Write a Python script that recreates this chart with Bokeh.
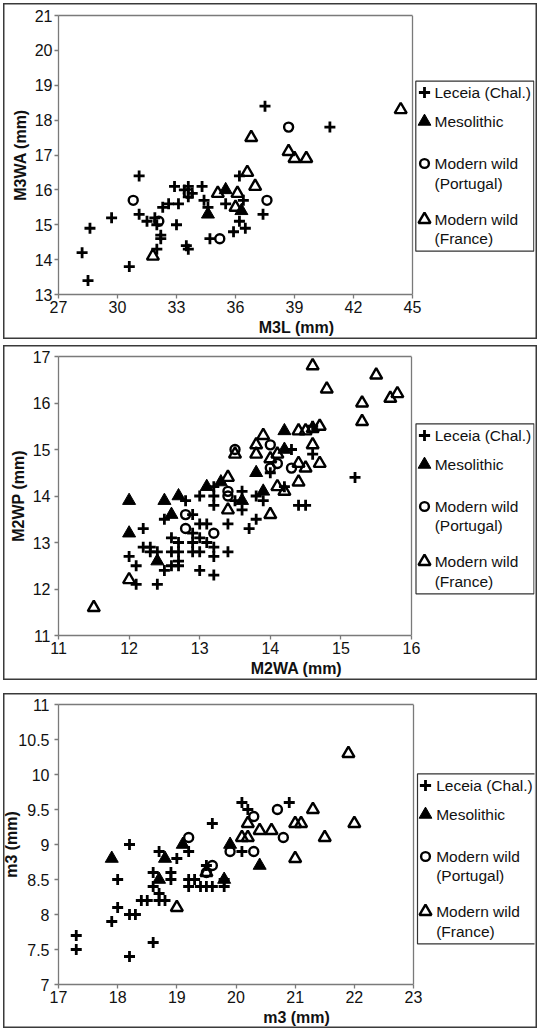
from bokeh.plotting import figure
from bokeh.layouts import column
from bokeh.models import (FixedTicker, CustomJSTickFormatter, Legend, LegendItem,
                          Label, Spacer, Range1d, LinearAxis, Span)
from bokeh.embed import file_html
from bokeh.resources import INLINE

FONT = "Liberation Sans"

SERIES_NAMES = ["Leceia (Chal.)", "Mesolithic", "Modern wild\n(Portugal)", "Modern wild\n(France)"]

# ---- Panel 1: M3L vs M3WA ----
m3l_leceia = [28.2, 28.5, 28.6, 29.7, 30.6, 31.1, 31.1, 31.5, 31.9, 32.0, 32.0, 32.2, 32.2,
              32.3, 32.6, 32.9, 33.1, 33.0, 33.4, 33.6, 33.8, 33.6, 34.3, 34.4, 34.6, 33.5,
              33.6, 34.7, 35.5, 35.9, 36.2, 36.2, 36.4, 36.5, 37.4, 37.5, 40.8]
m3wa_leceia = [14.2, 13.4, 14.9, 15.2, 13.8, 16.4, 15.3, 15.1, 15.2, 15.0, 14.3, 14.7, 14.6,
               15.5, 15.6, 16.1, 15.6, 15.0, 16.0, 16.1, 15.9, 15.8, 16.1, 15.7, 15.5, 14.4,
               14.3, 14.6, 15.6, 14.8, 16.4, 15.1, 15.7, 14.9, 15.3, 18.4, 17.8]
m3l_meso = [34.6, 35.5, 36.3]
m3wa_meso = [15.3, 16.0, 15.4]
m3l_portugal = [30.8, 32.1, 33.6, 35.2, 37.6, 38.7]
m3wa_portugal = [15.7, 15.1, 15.9, 14.6, 15.7, 17.8]
m3l_france = [31.8, 35.1, 36.1, 36.0, 36.6, 37.0, 36.8, 38.7, 39.0, 39.6, 44.4]
m3wa_france = [14.1, 15.9, 15.9, 15.5, 16.5, 16.1, 17.5, 17.1, 16.9, 16.9, 18.3]
m3l_ticks = [27, 30, 33, 36, 39, 42, 45]
m3wa_ticks = [13, 14, 15, 16, 17, 18, 19, 20, 21]

# ---- Panel 2: M2WA vs M2WP ----
m2wa_leceia = [12.0, 12.1, 12.1, 12.2, 12.2, 12.3, 12.3, 12.4, 12.4, 12.5, 12.5, 12.6, 12.6,
               12.6, 12.7, 12.7, 12.7, 12.7, 12.8, 12.9, 12.9, 12.9, 12.9, 13.0, 13.0, 13.0,
               13.0, 13.0, 13.1, 13.1, 13.2, 13.2, 13.2, 13.2, 13.2, 13.2, 13.4, 13.4, 13.5,
               13.6, 13.6, 13.7, 13.8, 13.8, 13.9, 14.0, 14.2, 14.3, 14.4, 14.5, 14.6, 14.6,
               15.2]
m2wp_leceia = [12.7, 12.5, 12.1, 13.3, 12.9, 12.9, 12.8, 12.8, 12.1, 13.5, 12.4, 13.1, 12.8,
               12.5, 13.0, 12.8, 12.6, 12.5, 13.9, 13.6, 13.2, 13.0, 12.8, 14.0, 13.4, 13.1,
               12.8, 12.4, 13.4, 13.0, 14.2, 14.0, 13.8, 12.9, 12.7, 12.3, 13.4, 12.8, 13.9,
               14.1, 13.7, 13.3, 14.0, 13.5, 13.9, 14.5, 14.2, 15.0, 13.8, 13.8, 15.5, 14.9,
               14.4]
m2wa_meso = [12.0, 12.0, 12.4, 12.5, 12.6, 12.7, 13.1, 13.3, 13.6, 13.8, 13.9, 14.2, 14.2]
m2wp_meso = [13.9, 13.2, 12.6, 13.9, 13.6, 14.0, 14.2, 14.3, 13.9, 14.5, 14.1, 15.4, 15.0]
m2wa_portugal = [12.8, 12.8, 13.2, 13.4, 13.4, 13.5, 14.0, 14.0, 14.1, 14.3]
m2wp_portugal = [13.6, 13.3, 13.2, 14.1, 14.0, 15.0, 15.1, 14.6, 14.7, 14.6]
m2wa_france = [11.5, 12.0, 13.4, 13.4, 13.5, 13.8, 13.8, 13.9, 14.0, 14.0, 14.1, 14.1, 14.2,
               14.4, 14.5, 14.6, 14.7, 14.6, 14.4, 14.5, 14.7, 14.4, 14.6, 14.8, 15.3, 15.3,
               15.5, 15.7, 15.8]
m2wp_france = [11.6, 12.2, 14.4, 13.7, 14.9, 15.1, 14.9, 15.3, 14.8, 13.6, 14.9, 14.2, 14.1,
               15.4, 15.4, 15.45, 15.5, 15.1, 14.7, 14.6, 14.7, 14.3, 16.8, 16.3, 16.0, 15.6,
               16.6, 16.1, 16.2]
m2wa_ticks = [11, 12, 13, 14, 15, 16]
m2wp_ticks = [11, 12, 13, 14, 15, 16, 17]

# ---- Panel 3: m3 length vs m3 width ----
m3x_leceia = [17.3, 17.3, 17.9, 18.0, 18.0, 18.2, 18.2, 18.3, 18.2, 18.4, 18.5, 18.6, 18.6,
              18.6, 18.7, 18.7, 18.7, 18.8, 18.9, 18.9, 19.0, 19.2, 19.2, 19.2, 19.3, 19.4,
              19.5, 19.6, 19.6, 19.5, 19.8, 19.8, 20.1, 20.2, 20.1, 20.9]
m3y_leceia = [7.7, 7.5, 7.9, 8.5, 8.1, 9.0, 8.0, 8.0, 7.4, 8.2, 8.2, 8.6, 8.4,
              7.6, 8.9, 8.3, 8.2, 8.2, 8.6, 8.5, 8.8, 8.9, 8.5, 8.4, 8.5, 8.4,
              8.4, 8.4, 9.3, 8.7, 8.5, 8.4, 9.6, 9.5, 8.9, 9.6]
m3x_meso = [17.9, 18.7, 18.8, 19.1, 19.8, 19.9, 20.4]
m3y_meso = [8.8, 8.5, 8.8, 9.0, 8.5, 9.0, 8.7]
m3x_portugal = [19.2, 19.5, 19.6, 19.9, 20.3, 20.3, 20.7, 20.8]
m3y_portugal = [9.1, 8.6, 8.7, 8.9, 9.4, 8.9, 9.5, 9.1]
m3x_france = [19.0, 19.5, 20.1, 20.2, 20.2, 20.4, 20.6, 21.0, 21.1, 21.0, 21.3, 21.5, 21.9, 22.0]
m3y_france = [8.1, 8.6, 9.1, 9.1, 9.3, 9.2, 9.2, 9.3, 9.3, 8.8, 9.5, 9.1, 10.3, 9.3]
m3x_ticks = [17, 18, 19, 20, 21, 22, 23]
m3y_ticks = [7, 7.5, 8, 8.5, 9, 9.5, 10, 10.5, 11]

AXIS_GREY = "#7a7a7a"
INK = "#111111"

STYLES = [
    dict(marker="cross", size=11, line_color="black", line_width=2.8),
    dict(marker="triangle", size=13, fill_color="black", line_color="black", line_width=1),
    dict(marker="circle", size=9, fill_alpha=0, line_color="black", line_width=2.4),
    dict(marker="triangle", size=12, fill_alpha=0, line_color="black", line_width=2.4),
]

# legend box geometry (pixels, relative to the box's top-left corner)
LEG_W, LEG_H = 118, 170
ROW_OFF = [11.5, 40.7, 82.3, 137.8]
LINE_GAP = 19.5
GLYPH_DX = 8.2
TEXT_DX = 18.7

PAGE_W = 540
LEFT = 58          # stacked plots share one frame edge
RIGHT_PAD = 6


def make_panel(series, x_ticks, y_ticks, x_title, y_title, height, plot_w, top, bottom,
               leg_left, leg_top, y_label_standoff, y_title_standoff):
    # the frame runs on past the last x tick so the legend can sit inside it
    frame_w = PAGE_W - LEFT - RIGHT_PAD
    frame_h = height - top - bottom
    x0, x1 = x_ticks[0], x_ticks[-1]
    y0, y1 = y_ticks[0], y_ticks[-1]
    x_per_px = (x1 - x0) / plot_w
    y_per_px = (y1 - y0) / frame_h
    p = figure(width=PAGE_W, height=height,
               x_range=Range1d(x0, x0 + frame_w * x_per_px),
               y_range=Range1d(y0, y1),
               min_border_left=LEFT, min_border_right=RIGHT_PAD,
               min_border_top=top, min_border_bottom=bottom,
               output_backend="svg", toolbar_location=None)
    p.background_fill_color = "white"
    p.border_fill_color = None
    p.outline_line_color = None
    p.xgrid.visible = False
    p.ygrid.visible = False
    p.styles = {"box-shadow": "inset 0 0 0 3px white, inset 0 0 0 4.5px #3a3a3a"}

    fmt = "return tick.toString();"
    p.xaxis.ticker = FixedTicker(ticks=x_ticks)
    p.yaxis.ticker = FixedTicker(ticks=y_ticks)
    p.xaxis.bounds = (x0, x1)
    for ax in (p.xaxis[0], p.yaxis[0]):
        ax.formatter = CustomJSTickFormatter(code=fmt)
        ax.axis_line_color = AXIS_GREY
        ax.axis_line_width = 1.3
        ax.major_tick_line_color = AXIS_GREY
        ax.major_tick_line_width = 1.3
        ax.major_tick_in = 0
        ax.major_tick_out = 4
        ax.minor_tick_line_color = None
        ax.major_label_text_font = FONT
        ax.major_label_text_font_size = "16px"
        ax.major_label_text_color = INK
        ax.axis_label_text_font = FONT
        ax.axis_label_text_font_size = "16px"
        ax.axis_label_text_font_style = "bold"
        ax.axis_label_text_color = INK
    p.xaxis.axis_label = x_title
    p.yaxis.axis_label = y_title
    p.xaxis.major_label_standoff = 2
    p.xaxis.axis_label_standoff = 3
    p.yaxis.major_label_standoff = y_label_standoff
    p.yaxis.axis_label_standoff = y_title_standoff

    # top and right edges of the plotting area
    top_edge = LinearAxis(bounds=(x0, x1), ticker=FixedTicker(ticks=[]),
                          axis_line_color=AXIS_GREY, axis_line_width=1.3,
                          major_tick_line_color=None, minor_tick_line_color=None,
                          major_label_text_color=None)
    p.add_layout(top_edge, "above")
    p.add_layout(Span(location=x1, dimension="height", line_color=AXIS_GREY, line_width=1.3))

    # legend box, sized in pixels and anchored at its centre
    box_top = frame_h - leg_top
    p.rect(x=[x0 + (leg_left + LEG_W / 2) * x_per_px],
           y=[y0 + (box_top - LEG_H / 2) * y_per_px],
           width=LEG_W, height=LEG_H, width_units="screen", height_units="screen",
           fill_color="white", line_color="#333333", line_width=1.2)

    renderers = []
    for (xs, ys), style in zip(series, STYLES):
        renderers.append(p.scatter(x=xs, y=ys, **style))

    for r, name, off, style in zip(renderers, SERIES_NAMES, ROW_OFF, STYLES):
        cy = box_top - off
        cx = leg_left + GLYPH_DX
        box = int(round(style["size"] / 0.4))
        p.add_layout(Legend(items=[LegendItem(label=" ", renderers=[r])],
                            location=(cx - box / 2, cy - box / 2),
                            glyph_width=box, glyph_height=box,
                            label_width=0, label_height=0, label_standoff=0,
                            padding=0, spacing=0,
                            label_text_font_size="1px",
                            border_line_alpha=0, background_fill_alpha=0))
        for i, line in enumerate(name.split("\n")):
            p.add_layout(Label(x=leg_left + TEXT_DX, y=cy - i * LINE_GAP,
                               x_units="screen", y_units="screen", text=line,
                               text_font=FONT, text_font_size="15.5px",
                               text_color=INK, text_baseline="middle",
                               text_align="left"))
    return p


p1 = make_panel([(m3l_leceia, m3wa_leceia), (m3l_meso, m3wa_meso),
                 (m3l_portugal, m3wa_portugal), (m3l_france, m3wa_france)],
                m3l_ticks, m3wa_ticks, "M3L (mm)", "M3WA (mm)",
                height=342, plot_w=354, top=15, bottom=48,
                leg_left=357.3, leg_top=65.7, y_label_standoff=2, y_title_standoff=3)

p2 = make_panel([(m2wa_leceia, m2wp_leceia), (m2wa_meso, m2wp_meso),
                 (m2wa_portugal, m2wp_portugal), (m2wa_france, m2wp_france)],
                m2wa_ticks, m2wp_ticks, "M2WA (mm)", "M2WP (mm)",
                height=341, plot_w=353, top=14, bottom=48,
                leg_left=357.5, leg_top=67.3, y_label_standoff=4, y_title_standoff=3)

p3 = make_panel([(m3x_leceia, m3y_leceia), (m3x_meso, m3y_meso),
                 (m3x_portugal, m3y_portugal), (m3x_france, m3y_france)],
                m3x_ticks, m3y_ticks, "m3 (mm)", "m3 (mm)",
                height=341, plot_w=355, top=14, bottom=47,
                leg_left=359, leg_top=69.3, y_label_standoff=5, y_title_standoff=-5)

layout = column(p1, p2, Spacer(width=540, height=7), p3, spacing=0)

with open("out.html", "w") as f:
    f.write(file_html(layout, INLINE))
